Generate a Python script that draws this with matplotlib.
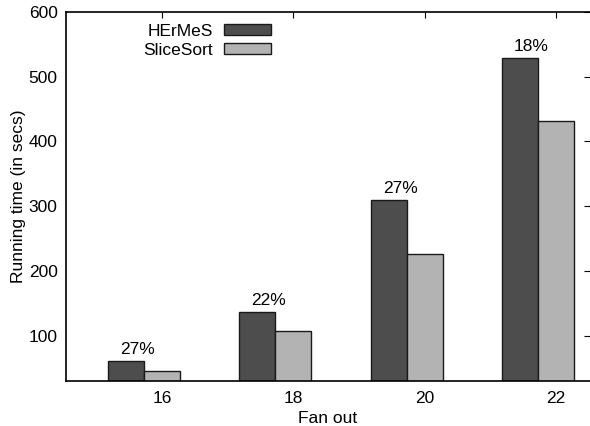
import numpy as np
import matplotlib
matplotlib.use('Agg')
import matplotlib.pyplot as plt

plt.rcParams['font.family'] = ['Liberation Sans', 'DejaVu Sans']
plt.rcParams['font.size'] = 12.5

# datos
fan_out = ['16', '18', '20', '22']
hermes = [61, 137, 310, 529]
slicesort = [45, 107, 226, 432]
mejora = ['27%', '22%', '27%', '18%']

fig = plt.figure(figsize=(5.9, 4.26), dpi=100)
ax = fig.add_axes([66 / 590, 45 / 426, 524 / 590, 369 / 426])

x = np.arange(len(fan_out))
w = 0.275
ax.bar(x - w, hermes, w, align='center', color='#4d4d4d', edgecolor='#1a1a1a',
       linewidth=1, label='HErMeS')
ax.bar(x, slicesort, w, align='center', color='#b3b3b3', edgecolor='#1a1a1a',
       linewidth=1, label='SliceSort')

for i in range(len(x)):
    ax.annotate(mejora[i], (x[i] - w + 0.088, hermes[i]), xytext=(0, 5.0),
                textcoords='offset points', ha='center', va='baseline')

ax.set_xlim(-0.733, 3.26)
ax.set_ylim(30, 600)
ax.set_xticks(x)
ax.set_xticklabels(fan_out)
ax.set_yticks([100, 200, 300, 400, 500, 600])

ax.tick_params(axis='x', bottom=False, top=True, direction='in', length=4, pad=7)
ax.tick_params(axis='y', left=False, right=True, direction='in', length=4, pad=6)
ax.spines['right'].set_visible(False)
for s in ['left', 'top', 'bottom']:
    ax.spines[s].set_linewidth(1.2)

ax.set_xlabel('Fan out', labelpad=4)
ax.set_ylabel('Running time (in secs)', labelpad=2)

ax.legend(loc='upper right', bbox_to_anchor=(280 / 590, (426 - 15) / 426),
          bbox_transform=fig.transFigure, frameon=False, markerfirst=False,
          borderpad=0, handlelength=2.75, handleheight=0.6, handletextpad=0.6,
          labelspacing=0.25)

fig.savefig('out.png', dpi=100)
